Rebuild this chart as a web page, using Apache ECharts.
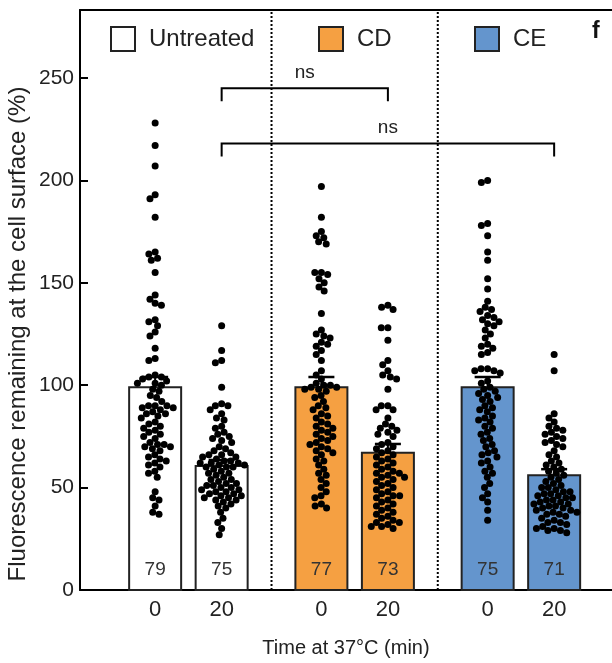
<!DOCTYPE html>
<html>
<head>
<meta charset="utf-8">
<script src="https://cdn.jsdelivr.net/npm/echarts@6/dist/echarts.min.js"></script>
<style>
  html, body { margin: 0; padding: 0; background: #fff; }
  #myChart { width: 612px; height: 663px; }
</style>
</head>
<body>
<div id="myChart"></div>
<script>
// treatments and their bars
var treatments = ['Untreated', 'CD', 'CE'];
var treatmentColors = ['#ffffff', '#F5A042', '#6495CD'];
var xPos = [1, 2, 3.5, 4.5, 6, 7];          // position of each bar on the x axis
var xTickLabels = ['0', '20', '0', '20', '0', '20'];
var groupTreatment = [0, 0, 1, 1, 2, 2];
var barMeans = [99, 60.5, 99, 67, 99, 56];
var barSem = [5, 3, 5, 4.3, 5, 3];
var nLabels = ['79', '75', '77', '73', '75', '71'];
var yTicks = [0, 50, 100, 150, 200, 250];
var separators = [2.75, 5.25];

// brackets: from bar, to bar, height
var bracketFrom = [2, 2];
var bracketTo = [4.5, 7];
var bracketY = [245, 218];
var bracketText = ['ns', 'ns'];

// single cells (% fluorescence remaining)
var untreated0 = [228, 217, 207, 193, 191, 182, 165, 164, 162, 161, 155, 144, 142, 140, 139, 132, 131, 129, 126, 124,
  118, 113, 112, 105, 104, 104, 103, 102, 101, 101, 100, 98, 97, 95, 94, 92, 90, 90, 90, 89, 89, 88, 87, 86, 86, 85,
  84, 82, 81, 80, 79, 78, 77, 76, 75, 74, 72, 71, 71, 70, 70, 69, 68, 66, 65, 64, 63, 62, 61, 60, 58, 57, 55, 48, 45,
  44, 41, 38, 37];
var untreated20 = [129, 117, 112, 111, 99, 91, 90, 90, 88, 86, 84, 83, 80, 79, 77, 76, 75, 74, 73, 72, 70, 69, 68, 67,
  66, 66, 65, 65, 64, 63, 63, 62, 62, 62, 61, 61, 60, 60, 60, 59, 58, 57, 57, 56, 55, 54, 54, 53, 52, 51, 50, 49, 48,
  47, 46, 45, 44, 43, 42, 40, 52, 51, 49, 47, 45, 50, 48, 46, 44, 41, 38, 35, 33, 30, 27];
var cd0 = [197, 182, 175, 173, 172, 170, 169, 155, 155, 154, 152, 150, 148, 146, 135, 127, 125, 124, 123, 121, 120, 119,
  117, 115, 112, 107, 105, 103, 101, 100, 100, 99, 99, 98, 98, 97, 95, 94, 92, 90, 89, 88, 86, 85, 84, 82, 81, 80, 79,
  78, 77, 76, 75, 74, 73, 72, 71, 70, 69, 68, 67, 66, 64, 63, 61, 59, 57, 56, 54, 52, 50, 48, 46, 45, 42, 41, 40];
var cd20 = [139, 138, 137, 128, 128, 122, 112, 110, 107, 105, 104, 103, 98, 90, 90, 88, 88, 84, 81, 80, 79, 78, 77, 76,
  75, 72, 71, 70, 69, 68, 67, 66, 65, 64, 63, 62, 61, 60, 59, 58, 57, 57, 56, 55, 55, 54, 53, 52, 51, 50, 49, 48, 47,
  46, 46, 45, 44, 43, 42, 41, 40, 39, 38, 37, 36, 35, 34, 33, 33, 32, 31, 31, 30];
var ce0 = [200, 199, 179, 178, 173, 165, 161, 152, 147, 141, 138, 137, 136, 134, 133, 132, 131, 130, 129, 127, 125, 123,
  120, 119, 118, 116, 115, 108, 108, 107, 107, 106, 102, 101, 99, 98, 97, 96, 95, 94, 93, 92, 90, 89, 88, 87, 85, 84,
  83, 82, 80, 79, 77, 76, 74, 73, 71, 70, 68, 67, 66, 65, 63, 62, 60, 58, 57, 55, 52, 50, 47, 45, 43, 39, 34];
var ce20 = [115, 107, 86, 84, 82, 80, 79, 78, 77, 76, 75, 74, 73, 72, 71, 70, 68, 66, 65, 63, 62, 61, 60, 59, 58, 57,
  56, 55, 54, 53, 52, 51, 50, 50, 49, 48, 48, 47, 47, 46, 46, 45, 45, 44, 44, 43, 43, 42, 42, 41, 41, 40, 40, 39, 39,
  38, 38, 37, 37, 36, 35, 34, 33, 33, 32, 31, 30, 30, 29, 29, 28];
var cells = [untreated0, untreated20, cd0, cd20, ce0, ce20];

var FONT = 'Liberation Sans, Arial, sans-serif';
var gridTop = 10, gridBottom = 73, yMax = 283.2;
var xMin = -0.13, xMax = 7.87;
var pxPerY = (663 - gridTop - gridBottom) / yMax;
var dotD = 6.6;

// simple beeswarm, offsets in pixels
function swarm(vals) {
  var order = vals.map(function (v, i) { return i; }).sort(function (a, b) { return vals[b] - vals[a]; });
  var placed = [], off = [];
  order.forEach(function (i) {
    var y = vals[i] * pxPerY;
    var blocks = [];
    placed.forEach(function (p) {
      var dy = Math.abs(p.y - y);
      if (dy < dotD) {
        var w = Math.sqrt(dotD * dotD - dy * dy);
        blocks.push([p.x - w, p.x + w]);
      }
    });
    var cands = [0];
    blocks.forEach(function (b) { cands.push(b[0], b[1]); });
    cands.sort(function (a, b) { return Math.abs(a) - Math.abs(b); });
    var x = 0;
    for (var k = 0; k < cands.length; k++) {
      var c = cands[k];
      var ok = blocks.every(function (b) { return c <= b[0] + 1e-6 || c >= b[1] - 1e-6; });
      if (ok) { x = c; break; }
    }
    placed.push({ x: x, y: y });
    off[i] = x;
  });
  return off;
}

var dotData = [];
cells.forEach(function (vals, g) {
  var off = swarm(vals);
  vals.forEach(function (v, i) { dotData.push([g, v, off[i]]); });
});

var myChart = echarts.init(document.getElementById('myChart'));

var barSeries = treatments.map(function (name, t) {
  var groups = [];
  groupTreatment.forEach(function (tt, g) { if (tt === t) groups.push([g]); });
  return {
    name: name,
    type: 'custom',
    itemStyle: { color: treatmentColors[t], borderColor: '#222', borderWidth: 2 },
    data: groups,
    z: 2,
    renderItem: function (params, api) {
      var g = api.value(0);
      var top = api.coord([xPos[g], barMeans[g]]);
      var base = api.coord([xPos[g], 0]);
      var w = 52;
      return {
        type: 'group',
        children: [{
          type: 'rect',
          shape: { x: top[0] - w / 2, y: top[1], width: w, height: base[1] - top[1] },
          style: { fill: treatmentColors[t], stroke: '#222', lineWidth: 2 }
        }, {
          type: 'text',
          x: base[0], y: base[1] - 20,
          style: { text: nLabels[g], font: '19px ' + FONT, fill: '#333', align: 'center', verticalAlign: 'middle' }
        }]
      };
    }
  };
});

myChart.setOption({
  animation: false,
  grid: { left: 80, right: 0, top: gridTop, bottom: gridBottom },
  legend: treatments.map(function (name, t) {
    return {
      data: [name],
      left: [110, 318, 474][t],
      top: 26,
      padding: 0,
      icon: 'rect',
      itemWidth: 24,
      itemHeight: 24,
      itemGap: 0,
      selectedMode: false,
      textStyle: { fontFamily: FONT, fontSize: 24, color: '#222', padding: [0, 0, 0, 9] },
      itemStyle: { borderColor: '#222', borderWidth: 2 }
    };
  }),
  graphic: [{
    type: 'text', left: 592, top: 20,
    style: { text: 'f', font: 'bold 23px ' + FONT, fill: '#111' }
  }, {
    // y axis title
    type: 'text', x: 18, y: 334, rotation: Math.PI / 2,
    style: {
      text: 'Fluorescence remaining at the cell surface (%)',
      font: '24px ' + FONT, fill: '#222', align: 'center', verticalAlign: 'middle'
    }
  }],
  xAxis: [{
    type: 'value',
    min: xMin,
    max: xMax,
    name: 'Time at 37°C (min)',
    nameLocation: 'middle',
    nameGap: 48,
    nameTextStyle: { fontFamily: FONT, fontSize: 20, color: '#222' },
    axisLine: { onZero: false, lineStyle: { color: '#000', width: 2 } },
    axisTick: { show: false },
    splitLine: { show: false },
    axisLabel: {
      customValues: xPos,
      formatter: function (v) { return xTickLabels[xPos.indexOf(v)]; },
      fontFamily: FONT, fontSize: 22, color: '#222', margin: 9
    }
  }, {
    // top frame line
    type: 'value',
    position: 'top',
    min: xMin,
    max: xMax,
    axisLine: { onZero: false, lineStyle: { color: '#000', width: 2 } },
    axisTick: { show: false },
    axisLabel: { show: false },
    splitLine: { show: false }
  }],
  yAxis: {
    type: 'value',
    min: 0,
    max: yMax,
    axisLine: { show: true, onZero: false, lineStyle: { color: '#000', width: 2 } },
    axisTick: { show: true, inside: true, length: 8, customValues: yTicks, lineStyle: { color: '#000', width: 2 } },
    splitLine: { show: false },
    axisLabel: { customValues: yTicks, fontFamily: FONT, fontSize: 21, color: '#222', margin: 6 }
  },
  series: barSeries.concat([
    {
      // dotted separators between treatments
      type: 'custom',
      data: separators.map(function (s) { return [s]; }),
      z: 1,
      silent: true,
      renderItem: function (params, api) {
        var a = api.coord([api.value(0), 0]);
        var b = api.coord([api.value(0), yMax]);
        return {
          type: 'line',
          shape: { x1: a[0], y1: a[1], x2: b[0], y2: b[1] },
          style: { stroke: '#000', lineWidth: 2, lineDash: [2, 2] }
        };
      }
    },
    {
      // single cells
      type: 'custom',
      data: dotData,
      z: 3,
      silent: true,
      renderItem: function (params, api) {
        var p = api.coord([xPos[api.value(0)], api.value(1)]);
        return {
          type: 'circle',
          shape: { cx: p[0] + api.value(2), cy: p[1], r: 3.5 },
          style: { fill: '#000' }
        };
      }
    },
    {
      // mean + SEM
      type: 'custom',
      data: barMeans.map(function (m, g) { return [g]; }),
      z: 4,
      silent: true,
      renderItem: function (params, api) {
        var g = api.value(0);
        var a = api.coord([xPos[g], barMeans[g]]);
        var b = api.coord([xPos[g], barMeans[g] + barSem[g]]);
        return {
          type: 'group',
          children: [
            { type: 'line', shape: { x1: a[0], y1: a[1], x2: b[0], y2: b[1] }, style: { stroke: '#000', lineWidth: 2 } },
            { type: 'line', shape: { x1: b[0] - 13, y1: b[1], x2: b[0] + 13, y2: b[1] }, style: { stroke: '#000', lineWidth: 2.5 } }
          ]
        };
      }
    },
    {
      // significance brackets
      type: 'custom',
      data: bracketY.map(function (y, i) { return [i]; }),
      z: 5,
      silent: true,
      renderItem: function (params, api) {
        var i = api.value(0);
        var l = api.coord([bracketFrom[i], bracketY[i]]);
        var r = api.coord([bracketTo[i], bracketY[i]]);
        var drop = 13;
        return {
          type: 'group',
          children: [{
            type: 'polyline',
            shape: { points: [[l[0], l[1] + drop], [l[0], l[1]], [r[0], r[1]], [r[0], r[1] + drop]] },
            style: { stroke: '#000', lineWidth: 2, fill: null }
          }, {
            type: 'text',
            x: (l[0] + r[0]) / 2, y: l[1] - 6,
            style: { text: bracketText[i], font: '19px ' + FONT, fill: '#222', align: 'center', verticalAlign: 'bottom' }
          }]
        };
      }
    }
  ])
});
</script>
</body>
</html>
